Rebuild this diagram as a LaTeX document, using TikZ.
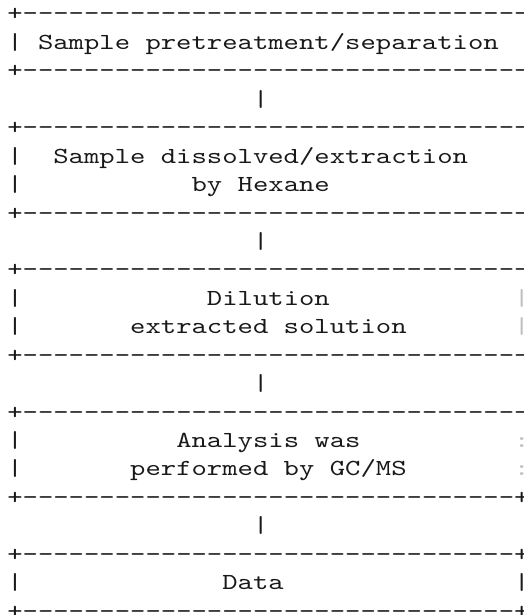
\documentclass[tikz,border=0pt]{standalone}
\usepackage{fontspec}
\newfontfamily\asciifont{lmmono10-regular.otf}[FakeStretch=1.272,Ligatures=TeXOff]
\newcommand\dashrow{+---------------------------------}
\newcommand\closedrow{+--------------------------------+}
\begin{document}
\begin{tikzpicture}[
  txt/.style={anchor=base west, inner sep=0pt, outer sep=0pt,
    font=\asciifont\fontsize{23}{28}\selectfont, text=black!90},
  faint/.style={txt, text=gray!50}]
\useasboundingbox (0pt,0pt) rectangle (523pt,615pt);
\begin{scope}[shift={(7.3pt,594pt)}, x=15.36pt, y=-28.43pt]
% box 1
\node[txt] (r0) at (0,0) {\dashrow};
\node[txt] (l1) at (0,1) {|};
\node[txt] (t1) at (2,1) {Sample pretreatment/separation};
\node[txt] (r2) at (0,2) {\dashrow};
\node[txt] (c3) at (16,3) {|};
% box 2
\node[txt] (r4) at (0,4) {\dashrow};
\node[txt] (l5) at (0,5) {|};
\node[txt] (t5) at (3,5) {Sample dissolved/extraction};
\node[txt] (l6) at (0,6) {|};
\node[txt] (t6) at (12,6) {by Hexane};
\node[txt] (r7) at (0,7) {\dashrow};
\node[txt] (c8) at (16,8) {|};
% box 3
\node[txt] (r9) at (0,9) {\dashrow};
\node[txt] (l10) at (0,10) {|};
\node[txt] (t10) at (13,10) {Dilution};
\node[faint] (e10) at (33,10) {|};
\node[txt] (l11) at (0,11) {|};
\node[txt] (t11) at (8,11) {extracted solution};
\node[faint] (e11) at (33,11) {|};
\node[txt] (r12) at (0,12) {\dashrow};
\node[txt] (c13) at (16,13) {|};
% box 4
\node[txt] (r14) at (0,14) {\dashrow};
\node[txt] (l15) at (0,15) {|};
\node[txt] (t15) at (11,15) {Analysis was};
\node[faint] (e15) at (33,15) {:};
\node[txt] (l16) at (0,16) {|};
\node[txt] (t16) at (8,16) {performed by GC/MS};
\node[faint] (e16) at (33,16) {:};
\node[txt] (r17) at (0,17) {\closedrow};
\node[txt] (c18) at (16,18) {|};
% box 5
\node[txt] (r19) at (0,19) {\closedrow};
\node[txt] (l20) at (0,20) {|};
\node[txt] (t20) at (14,20) {Data};
\node[txt] (e20) at (33,20) {|};
\node[txt] (r21) at (0,21) {\closedrow};
\end{scope}
\end{tikzpicture}
\end{document}
